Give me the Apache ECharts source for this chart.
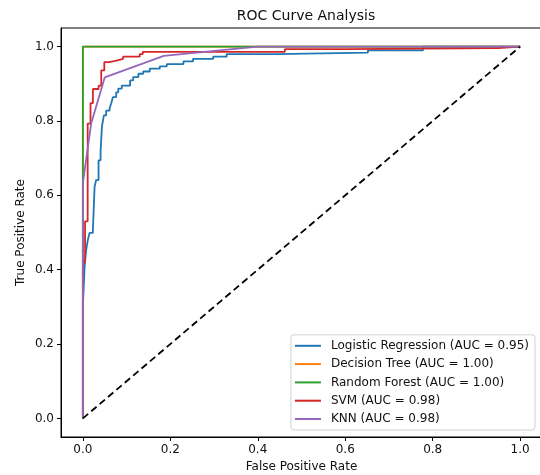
<!DOCTYPE html>
<html>
<head>
<meta charset="utf-8">
<script src="https://cdn.jsdelivr.net/npm/echarts@6/dist/echarts.min.js"></script>
<style>html,body{margin:0;padding:0;background:#fff}#c{width:540px;height:475px}</style>
</head>
<body>
<div id="c"></div>
<script>
const ticks = [0, 0.2, 0.4, 0.6, 0.8, 1.0];
const seriesNames = ['Logistic Regression (AUC = 0.95)', 'Decision Tree (AUC = 1.00)', 'Random Forest (AUC = 1.00)', 'SVM (AUC = 0.98)', 'KNN (AUC = 0.98)'];
const colors = ['#1f77b4', '#ff7f0e', '#2ca02c', '#d62728', '#9467bd'];

// ROC points [fpr, tpr]
const lrRoc = [[0,0],[0,0.301],[0.004,0.301],[0.004,0.408],[0.0076,0.408],[0.0076,0.453],[0.0114,0.453],[0.0114,0.48],[0.0153,0.48],[0.0153,0.499],[0.0229,0.499],[0.0229,0.507],[0.0268,0.507],[0.0268,0.623],[0.0304,0.623],[0.0304,0.641],[0.0359,0.641],[0.0359,0.694],[0.0405,0.694],[0.0405,0.717],[0.0435,0.717],[0.0435,0.784],[0.048,0.784],[0.048,0.815],[0.0533,0.815],[0.0533,0.828],[0.0611,0.828],[0.0611,0.834],[0.0648,0.834],[0.0648,0.847],[0.0686,0.847],[0.0686,0.864],[0.0762,0.864],[0.0762,0.877],[0.081,0.877],[0.081,0.887],[0.089,0.887],[0.089,0.895],[0.108,0.895],[0.108,0.909],[0.115,0.909],[0.115,0.918],[0.127,0.918],[0.127,0.927],[0.138,0.927],[0.138,0.933],[0.153,0.933],[0.153,0.941],[0.176,0.941],[0.176,0.947],[0.192,0.947],[0.192,0.953],[0.23,0.953],[0.23,0.96],[0.252,0.96],[0.252,0.967],[0.298,0.967],[0.298,0.973],[0.329,0.973],[0.329,0.98],[0.443,0.98],[0.443,0.984],[0.652,0.984],[0.652,0.99],[0.778,0.99],[0.778,1],[1,1]];
const dtRoc = [[0,0],[0,1],[1,1]];
const rfRoc = [[0,0],[0,1],[1,1]];
const svmRoc = [[0,0],[0,0.42],[0.005,0.42],[0.005,0.53],[0.011,0.53],[0.011,0.793],[0.0175,0.793],[0.0175,0.848],[0.023,0.848],[0.023,0.886],[0.036,0.886],[0.036,0.895],[0.042,0.895],[0.042,0.936],[0.049,0.936],[0.049,0.958],[0.06,0.958],[0.06,0.962],[0.077,0.962],[0.077,0.967],[0.092,0.967],[0.092,0.973],[0.130,0.973],[0.130,0.98],[0.137,0.98],[0.137,0.986],[0.462,0.986],[0.462,0.993],[0.603,0.993],[0.603,0.996],[0.95,0.996],[0.95,1],[1,1]];
const knnRoc = [[0,0],[0,0.633],[0.019,0.793],[0.05,0.917],[0.185,0.975],[0.40,1],[1,1]];
const chanceLine = [[0,0],[1,1]];

const rocs = [lrRoc, dtRoc, rfRoc, svmRoc, knnRoc];
const font = 'DejaVu Sans';

const series = rocs.map((d, i) => ({
  name: seriesNames[i], type: 'line', data: d, symbol: 'none', showSymbol: false,
  lineStyle: { color: colors[i], width: 1.8 }, itemStyle: { color: colors[i] },
  z: 2 + i, animation: false
}));
series.push({
  type: 'line', data: chanceLine, symbol: 'none', z: 10, animation: false,
  lineStyle: { color: '#000', width: 1.8, type: [7, 4] }
});

const axisCommon = {
  type: 'value', min: -0.05, max: 1.05,
  splitLine: { show: false },
  axisLine: { show: true, onZero: false, lineStyle: { color: '#000', width: 1 } },
  axisTick: { show: true, length: 4, customValues: ticks, lineStyle: { color: '#000' } },
  axisLabel: { customValues: ticks, formatter: v => v.toFixed(1), color: '#111', fontFamily: font, fontSize: 12, margin: 7 },
  nameLocation: 'middle',
  nameMoveOverlap: false,
  nameTextStyle: { color: '#111', fontFamily: font, fontSize: 12 }
};

const chart = echarts.init(document.getElementById('c'), null, { renderer: 'canvas' });
chart.setOption({
  animation: false,
  backgroundColor: '#fff',
  title: { text: 'ROC Curve Analysis', left: 301, top: 4, textAlign: 'center',
    textStyle: { fontFamily: font, fontSize: 14, fontWeight: 'normal', color: '#111' } },
  grid: { left: 61, top: 28, right: -2, bottom: 38, show: true, borderColor: '#000', borderWidth: 1,
    backgroundColor: 'transparent', containLabel: false, outerBoundsMode: 'none' },
  xAxis: Object.assign({}, axisCommon, { name: 'False Positive Rate', nameGap: 24 }),
  yAxis: Object.assign({}, axisCommon, { name: 'True Positive Rate', nameGap: 34 }),
  legend: {
    data: seriesNames.map((n, i) => ({ name: n, icon: 'rect', itemStyle: { color: colors[i] } })),
    orient: 'vertical', right: 5, bottom: 45,
    itemWidth: 26, itemHeight: 2, itemGap: 4.3,
    padding: [4, 6, 4, 4],
    backgroundColor: 'rgba(255,255,255,0.8)', borderColor: '#d0d0d0', borderWidth: 1, borderRadius: 3,
    textStyle: { fontFamily: font, fontSize: 12, lineHeight: 14, color: '#111', padding: [0, 0, 0, 5] }
  },
  series: series
});
</script>
</body>
</html>
